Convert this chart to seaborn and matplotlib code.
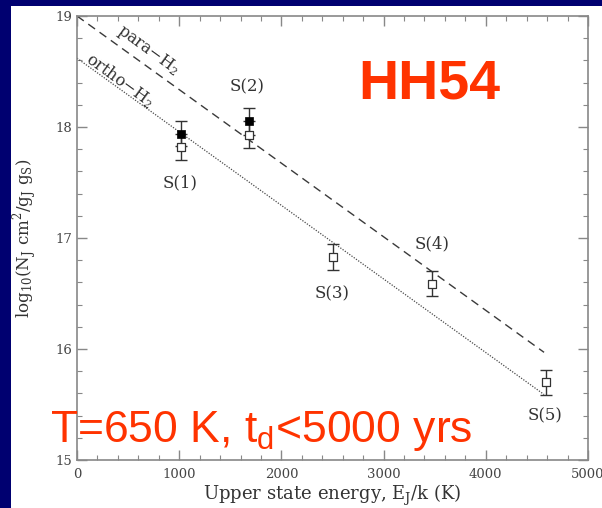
import numpy as np
import pandas as pd
import matplotlib
matplotlib.use("Agg")
import matplotlib.pyplot as plt
from matplotlib.patches import Rectangle
from matplotlib.ticker import MultipleLocator
import seaborn as sns

# H2 pure-rotational lines: upper-state energy (K) and column densities
lines = ["S(1)", "S(2)", "S(3)", "S(4)", "S(5)"]
energy = [1015, 1682, 2504, 3474, 4586]
log_n_open = [17.82, 17.93, 16.83, 16.59, 15.70]
err_open = [0.12, 0.12, 0.115, 0.115, 0.11]

# ortho/para-corrected points for the two lowest lines
energy_filled = [1015, 1682]
log_n_filled = [17.94, 18.05]
err_filled = [0.11, 0.12]

# label positions (energy, log N)
label_x = [1010, 1663, 2495, 3474, 4580]
label_y = [17.50, 18.36, 16.50, 16.95, 15.40]

# single-temperature fits, T = 650 K
fit_x = [0, 4570]
para_fit = [19.00, 15.97]
ortho_fit = [18.62, 15.59]

W, H, DPI = 602, 508, 100
sns.set_style("ticks")
plt.rcParams["font.family"] = ["DejaVu Serif"]

fig = plt.figure(figsize=(W / DPI, H / DPI), dpi=DPI)
fig.patch.set_facecolor("#000070")
fig.add_artist(Rectangle((11 / W, 0), 1 - 11 / W, 1 - 6 / H,
                         transform=fig.transFigure, facecolor="white",
                         edgecolor="none", zorder=0))

ax = fig.add_axes([77 / W, 1 - 460 / H, (588 - 77) / W, (460 - 16) / H])
ax.set_facecolor("white")

fits = pd.DataFrame({
    "E": fit_x + fit_x,
    "logN": para_fit + ortho_fit,
    "species": ["para"] * 2 + ["ortho"] * 2,
})
sns.lineplot(data=fits[fits.species == "para"], x="E", y="logN", ax=ax,
             color="#3a3a3a", lw=1.0, linestyle=(0, (6, 4)))
sns.lineplot(data=fits[fits.species == "ortho"], x="E", y="logN", ax=ax,
             color="#4a4a4a", lw=0.9, linestyle=(0, (1, 1.2)))

ax.errorbar(energy, log_n_open, yerr=err_open, fmt="none", ecolor="#333333",
            elinewidth=1.0, capsize=4, capthick=1.0, zorder=3)
ax.errorbar(energy_filled, log_n_filled, yerr=err_filled, fmt="none",
            ecolor="#333333", elinewidth=1.0, capsize=4, capthick=1.0, zorder=3)

pts_open = pd.DataFrame({"E": energy, "logN": log_n_open})
pts_filled = pd.DataFrame({"E": energy_filled, "logN": log_n_filled})
sns.scatterplot(data=pts_open, x="E", y="logN", ax=ax, marker="s", s=30,
                facecolor="white", edgecolor="#333333", linewidth=0.9, zorder=4)
sns.scatterplot(data=pts_filled, x="E", y="logN", ax=ax, marker="s", s=36,
                color="black", edgecolor="black", linewidth=0.5, zorder=5)

for lab, lx, ly in zip(lines, label_x, label_y):
    ax.text(lx, ly, lab, ha="center", va="center", fontsize=12, color="#333333")

ax.text(695, 18.69, r"para$-$H$_\mathregular{2}$", rotation=-36,
        rotation_mode="anchor", ha="center", va="center", fontsize=11.5,
        color="#333333")
ax.text(421, 18.42, r"ortho$-$H$_\mathregular{2}$", rotation=-36,
        rotation_mode="anchor", ha="center", va="center", fontsize=11.5,
        color="#333333")

ax.set_xlim(0, 5000)
ax.set_ylim(15, 19)
ax.xaxis.set_major_locator(MultipleLocator(1000))
ax.xaxis.set_minor_locator(MultipleLocator(200))
ax.yaxis.set_major_locator(MultipleLocator(1))
ax.yaxis.set_minor_locator(MultipleLocator(0.2))
ax.tick_params(which="both", direction="in", top=True, right=True,
               color="#888888", labelcolor="#444444", labelsize=9.5)
ax.tick_params(which="major", length=7, width=1)
ax.tick_params(which="minor", length=3.5, width=0.8)
ax.tick_params(axis="x", pad=6)
for sp in ax.spines.values():
    sp.set_visible(True)
    sp.set_color("#888888")
    sp.set_linewidth(1.2)

ax.set_xlabel(r"Upper state energy, E$_\mathregular{J}$/k (K)", fontsize=13,
              color="#333333", labelpad=1)
ax.set_ylabel(r"log$_\mathregular{10}$(N$_\mathregular{J}$ cm$^\mathregular{2}$/g$_\mathregular{J}$ g$_\mathregular{S}$)",
              fontsize=12, color="#333333", labelpad=12)

ax.text(0.69, 0.845, "HH54", transform=ax.transAxes, ha="center",
        va="center", fontsize=40, fontweight="bold", color="#ff3300",
        family=["Liberation Sans", "DejaVu Sans"], zorder=6)
fig.text(50 / W, 1 - 431 / H, r"T=650 K, t$_\mathregular{d}$<5000 yrs",
         ha="left", va="center", fontsize=32, color="#ff3300",
         family=["Liberation Sans", "DejaVu Sans"], zorder=6)

fig.savefig("out.png", dpi=DPI, facecolor=fig.get_facecolor())
